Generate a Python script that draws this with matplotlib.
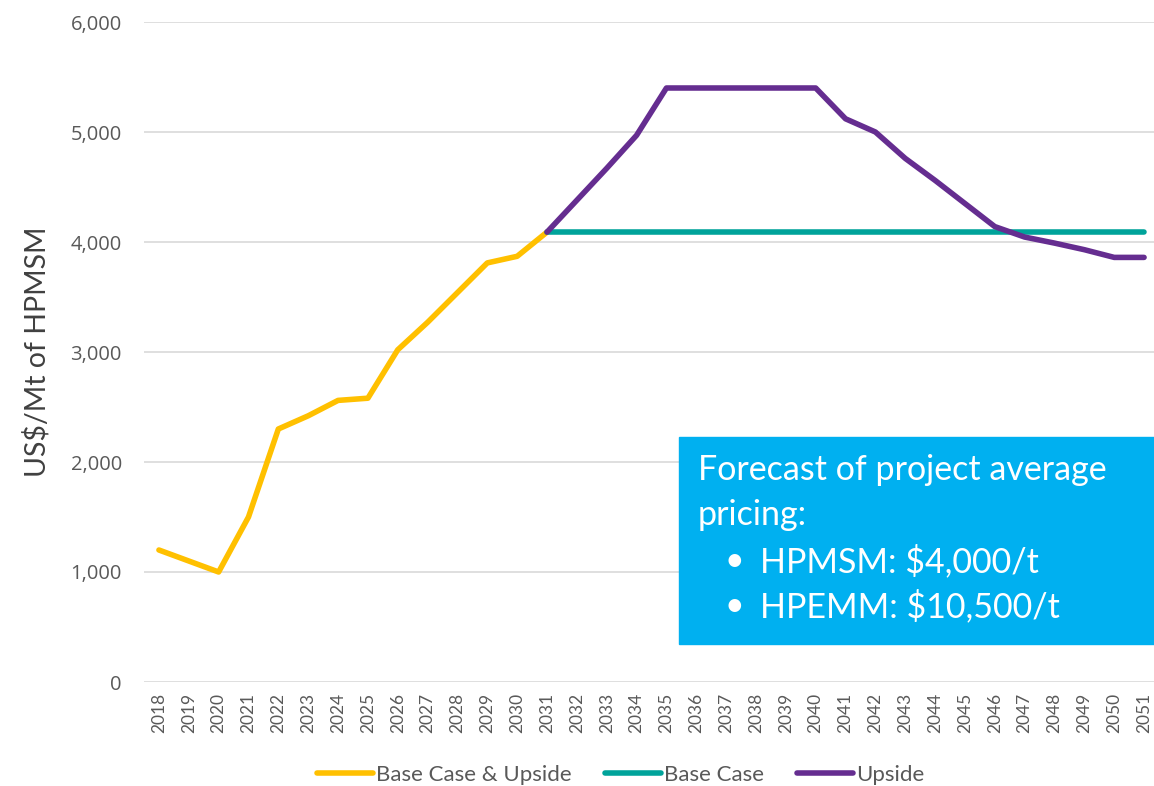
import matplotlib.pyplot as plt
from matplotlib.patches import Rectangle

plt.rcParams['font.family'] = ['Lato', 'DejaVu Sans']

years = list(range(2018, 2052))

base_upside_years = list(range(2018, 2032))
base_upside = [1200, 1100, 1000, 1500, 2300, 2420, 2560, 2580, 3020, 3270,
               3540, 3810, 3870, 4090]

base_years = list(range(2031, 2052))
base_case = [4090] * len(base_years)

upside_years = list(range(2031, 2052))
upside = [4090, 4380, 4670, 4970, 5400, 5400, 5400, 5400, 5400, 5400,
          5120, 5000, 4760, 4560, 4350, 4140, 4045, 3990, 3930, 3860, 3860]

box_lines = ["Forecast of project average", "pricing:"]
box_bullets = ["HPMSM: $4,000/t", "HPEMM: $10,500/t"]

grey = '#595959'

fig = plt.figure(figsize=(11.54, 7.86), dpi=100)
ax = fig.add_axes([144 / 1154, 1 - 682 / 786, 1015 / 1154, 660 / 786])

ax.plot(base_upside_years, base_upside, color='#FFC000', lw=4,
        solid_capstyle='round', label='Base Case & Upside', zorder=3)
ax.plot(base_years, base_case, color='#00A39A', lw=4,
        solid_capstyle='round', label='Base Case', zorder=3)
ax.plot(upside_years, upside, color='#652D90', lw=4,
        solid_capstyle='round', label='Upside', zorder=4)

ax.set_xlim(2017.5, 2051.5)
ax.set_ylim(0, 6000)
ax.set_yticks(range(0, 6001, 1000))
ax.set_yticklabels([f'{v:,}' for v in range(0, 6001, 1000)],
                   fontfamily='Open Sans', fontsize=14.5)
ax.set_xticks(years)
ax.set_xticklabels([str(y) for y in years], rotation=90, fontsize=12.5)
ax.tick_params(axis='both', colors=grey, length=0)
ax.tick_params(axis='y', pad=16)
ax.tick_params(axis='x', pad=8)
ax.grid(axis='y', color='#D9D9D9', lw=1.2)
ax.set_axisbelow(True)
for s in ax.spines.values():
    s.set_visible(False)

ax.set_ylabel('US$/Mt of HPMSM', fontsize=20.5, color='#404040', labelpad=14)

fig.legend(loc='center', bbox_to_anchor=(621 / 1154, 1 - 775 / 786), ncol=3,
           frameon=False, fontsize=16, labelcolor=grey, handlelength=2.5,
           handletextpad=0.15, columnspacing=1.5)

# callout box
fig.patches.append(Rectangle((679 / 1154, 1 - 644 / 786), 475 / 1154, 207 / 786,
                             transform=fig.transFigure, color='#00B0F0', zorder=5))
fig.text(698 / 1154, 1 - 470 / 786, box_lines[0], color='white', fontsize=24.5,
         va='center', zorder=6)
fig.text(698 / 1154, 1 - 515 / 786, box_lines[1], color='white', fontsize=24.5,
         va='center', zorder=6)
for i, b in enumerate(box_bullets):
    yy = 1 - (561 + 45 * i) / 786
    fig.text(724 / 1154, yy, '•', color='white', fontsize=24.5, va='center', zorder=6)
    fig.text(760 / 1154, yy, b, color='white', fontsize=24.5, va='center', zorder=6)

fig.savefig('out.png', dpi=100)
